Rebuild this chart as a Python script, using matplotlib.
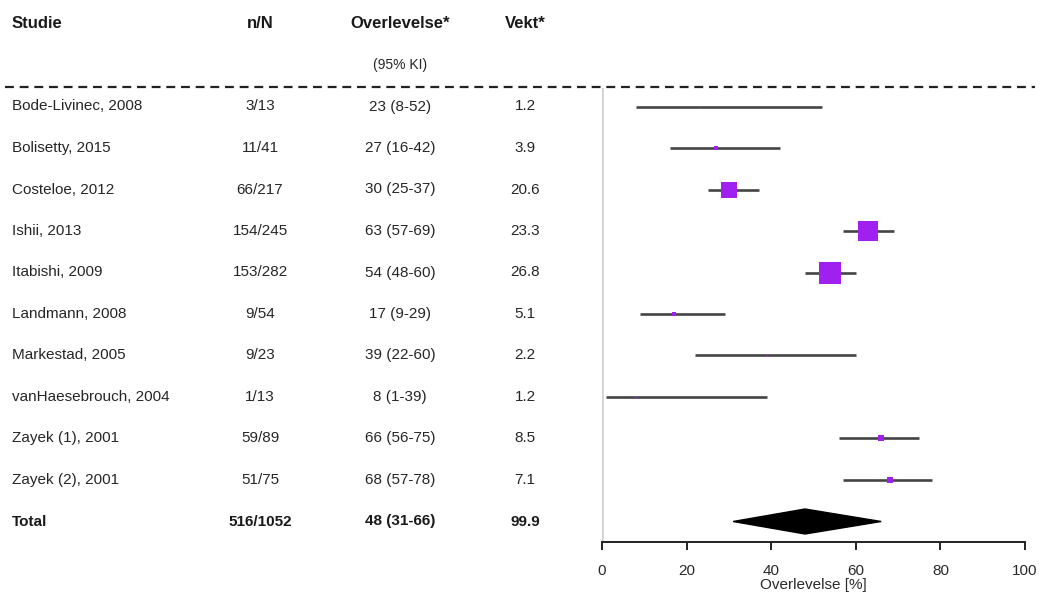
import matplotlib
matplotlib.use("Agg")
import matplotlib.pyplot as plt
import matplotlib.transforms as mtransforms
import numpy as np

plt.rcParams['font.family'] = ['Liberation Sans', 'DejaVu Sans']

studies = ["Bode-Livinec, 2008", "Bolisetty, 2015", "Costeloe, 2012", "Ishii, 2013",
           "Itabishi, 2009", "Landmann, 2008", "Markestad, 2005", "vanHaesebrouch, 2004",
           "Zayek (1), 2001", "Zayek (2), 2001"]
n_events = [3, 11, 66, 154, 153, 9, 9, 1, 59, 51]
n_total = [13, 41, 217, 245, 282, 54, 23, 13, 89, 75]
estimate = [23, 27, 30, 63, 54, 17, 39, 8, 66, 68]
ci_low = [8, 16, 25, 57, 48, 9, 22, 1, 56, 57]
ci_high = [52, 42, 37, 69, 60, 29, 60, 39, 75, 78]
weight = [1.2, 3.9, 20.6, 23.3, 26.8, 5.1, 2.2, 1.2, 8.5, 7.1]

total_label = "Total"
total_n = "516/1052"
total_est = 48
total_low = 31
total_high = 66
total_weight = 99.9

headers = ["Studie", "n/N", "Overlevelse*", "Vekt*"]
subheader = "(95% KI)"
xticks = [0, 20, 40, 60, 80, 100]
xlabel = "Overlevelse [%]"

W, H = 1040, 597
fig = plt.figure(figsize=(W / 100, H / 100), dpi=100)

row_px0 = 106.5
row_step = 41.5
ax_top_px, ax_bot_px = 88.0, 542.0
left_px, right_px = 602.0, 1025.0
ax = fig.add_axes([left_px / W, 1 - ax_bot_px / H,
                   (right_px - left_px) / W, (ax_bot_px - ax_top_px) / H])
y_top = -(row_px0 - ax_top_px) / row_step
y_bot = (ax_bot_px - row_px0) / row_step
ax.set_ylim(y_bot, y_top)
ax.set_xlim(0, 100)

for s in ["top", "right", "left"]:
    ax.spines[s].set_visible(False)
ax.spines["bottom"].set_linewidth(1.4)
ax.spines["bottom"].set_color("#222222")
ax.spines["bottom"].set_bounds(0, 100)
ax.set_yticks([])
ax.set_xticks(xticks)
ax.tick_params(axis="x", length=6, width=1.4, color="#222222", labelsize=11,
               labelcolor="#2a2a2a", pad=10)
ax.set_xlabel(xlabel, fontsize=11, color="#2a2a2a", labelpad=0)

# reference line at zero
ax.axvline(0, color="#cfcfcf", lw=1.8, zorder=0)

txt_color = "#262626"
purple = "#A020F0"
px_per_pt = 100 / 72

rows = np.arange(len(studies))
for i in rows:
    ax.plot([ci_low[i], ci_high[i]], [i, i], color="#444444", lw=1.9,
            solid_capstyle="butt", zorder=2)
    side_px = max(0.82 * weight[i], 1.2)
    ax.plot(estimate[i], i, marker="s", color=purple, markersize=side_px / px_per_pt,
            markeredgewidth=0, zorder=3, linestyle="none")

# pooled estimate diamond
yt = len(studies)
hh = 12.5 / row_step
ax.fill([total_low, total_est, total_high, total_est],
        [yt, yt - hh, yt, yt + hh], color="black", zorder=3, clip_on=False)

# table columns: x in figure coords, y in row units
trans = mtransforms.blended_transform_factory(fig.transFigure, ax.transData)
col_name = 12 / W
col_n = 260 / W
col_est = 400 / W
col_w = 525 / W
fs = 11
fs_head = 12

for i in rows:
    ax.text(col_name, i, studies[i], transform=trans, ha="left", va="center",
            fontsize=fs, color=txt_color, clip_on=False)
    ax.text(col_n, i, f"{n_events[i]}/{n_total[i]}", transform=trans, ha="center",
            va="center", fontsize=fs, color=txt_color, clip_on=False)
    ax.text(col_est, i, f"{estimate[i]} ({ci_low[i]}-{ci_high[i]})", transform=trans,
            ha="center", va="center", fontsize=fs, color=txt_color, clip_on=False)
    ax.text(col_w, i, f"{weight[i]}", transform=trans, ha="center", va="center",
            fontsize=fs, color=txt_color, clip_on=False)

bold = dict(transform=trans, va="center", color="#1a1a1a",
            fontweight="bold", clip_on=False)
ax.text(col_name, yt, total_label, ha="left", fontsize=fs, **bold)
ax.text(col_n, yt, total_n, ha="center", fontsize=fs, **bold)
ax.text(col_est, yt, f"{total_est} ({total_low}-{total_high})", ha="center",
        fontsize=fs, **bold)
ax.text(col_w, yt, f"{total_weight}", ha="center", fontsize=fs, **bold)

y_head = (23 - row_px0) / row_step
y_sub = (65 - row_px0) / row_step
ax.text(col_name, y_head, headers[0], ha="left", fontsize=fs_head, **bold)
ax.text(col_n, y_head, headers[1], ha="center", fontsize=fs_head, **bold)
ax.text(col_est, y_head, headers[2], ha="center", fontsize=fs_head, **bold)
ax.text(col_w, y_head, headers[3], ha="center", fontsize=fs_head, **bold)
ax.text(col_est, y_sub, subheader, transform=trans, ha="center", va="center",
        fontsize=10, color=txt_color, clip_on=False)

# dashed separator under the header
y_dash = (87 - row_px0) / row_step
ax.plot([5 / W, 1035 / W], [y_dash, y_dash], transform=trans, color="#222222",
        lw=1.6, ls=(0, (4, 2.6)), clip_on=False)

fig.savefig("out.png", dpi=100, facecolor="white")
